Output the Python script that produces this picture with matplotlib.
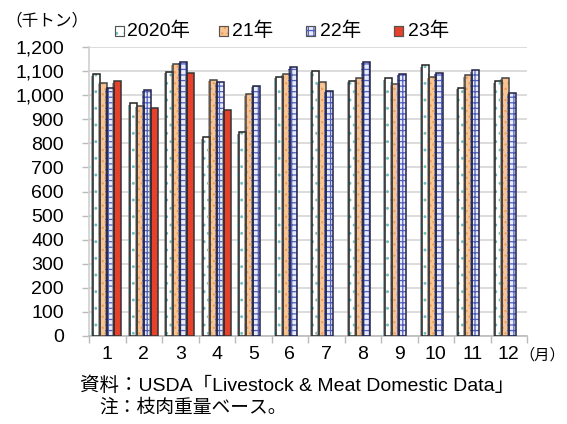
import matplotlib
matplotlib.use("Agg")
import matplotlib.pyplot as plt
import numpy as np
from matplotlib.patches import Rectangle
from matplotlib import patheffects as pe

plt.rcParams['font.family'] = ['Liberation Sans', 'Noto Sans CJK JP', 'DejaVu Sans']

months = ['1', '2', '3', '4', '5', '6', '7', '8', '9', '10', '11', '12']
series_names = ['2020年', '21年', '22年', '23年']
v2020 = [1086, 967, 1098, 825, 845, 1076, 1101, 1060, 1070, 1124, 1030, 1057]
v2021 = [1052, 955, 1129, 1065, 1004, 1088, 1054, 1070, 1047, 1075, 1083, 1071]
v2022 = [1031, 1021, 1139, 1056, 1038, 1115, 1019, 1138, 1089, 1092, 1103, 1011]
v2023 = [1057, 947, 1094, 938]
yticks = [0, 100, 200, 300, 400, 500, 600, 700, 800, 900, 1000, 1100, 1200]

series = [v2020, v2021, v2022, v2023]
faces = ['white', '#F8C493', '#E8EBF8', '#E8412B']
hatch_cols = ['#6FBFC0', '#E9A060', '#4F5FC0', '#E8412B']
hatches = ['..', '...', '+++', None]
edges = ['#222222', '#444444', '#222244', '#333333']

W, H = 567, 424
fig = plt.figure(figsize=(W/100, H/100), dpi=100)
ax = fig.add_axes([89/W, 1-336/H, (527-89)/W, (336-47)/H])

plt.rcParams['hatch.linewidth'] = 0.9
x = np.arange(len(months))
w = 0.19
shadow = [pe.SimplePatchShadow(offset=(-1.5, -1), shadow_rgbFace='#808080', alpha=0.7), pe.Normal()]
for j, vals in enumerate(series):
    xs = x[:len(vals)] + (j - 1.5) * w
    b = ax.bar(xs, vals, width=w, color=faces[j], edgecolor=hatch_cols[j],
               hatch=hatches[j], linewidth=0, zorder=3)
    for p in b:
        p.set_path_effects(shadow)
    ax.bar(xs, vals, width=w, facecolor='none', edgecolor=edges[j], linewidth=1.1, zorder=4)

ax.set_xlim(-0.5, 11.5)
ax.set_ylim(0, 1200)
ax.set_yticks(yticks)
ax.set_yticklabels([f'{v:,}' for v in yticks], fontsize=14)
ax.set_xticks(x)
ax.set_xticklabels(months, fontsize=14)
ax.set_xticks(np.arange(-0.5, 12, 1), minor=True)
ax.tick_params(axis='x', which='major', length=0, pad=7)
ax.tick_params(axis='x', which='minor', length=5, color='#BBBBBB', width=1)
ax.tick_params(axis='y', length=5, color='#BBBBBB', width=1, pad=13)
ax.grid(axis='y', color='#D9D9D9', linewidth=1.3, zorder=0)
ax.set_axisbelow(True)
for s in ['top', 'right']:
    ax.spines[s].set_visible(False)
ax.spines['left'].set_color('#D0D0D0')
ax.spines['bottom'].set_color('#BBBBBB')
ax.spines['left'].set_linewidth(1.2)
ax.spines['bottom'].set_linewidth(1.2)

# legend (manual placement)
sq_left = [115, 219, 306, 394]
txt_left = [127, 232, 320, 408]
leg_y = 31
sq = 9
for j in range(4):
    r = Rectangle(((sq_left[j]) / W, 1 - (leg_y + sq / 2) / H), sq / W, sq / H,
                  transform=fig.transFigure, facecolor=faces[j],
                  edgecolor=hatch_cols[j] if hatches[j] else '#333333',
                  hatch=hatches[j], linewidth=0.8)
    fig.add_artist(r)
    r2 = Rectangle(((sq_left[j]) / W, 1 - (leg_y + sq / 2) / H), sq / W, sq / H,
                   transform=fig.transFigure, facecolor='none', edgecolor='#555555', linewidth=0.8)
    fig.add_artist(r2)
    fig.text(txt_left[j] / W, 1 - leg_y / H, series_names[j], fontsize=14, va='center', ha='left')

fig.text(5/W, 1-20/H, '（千トン）', fontsize=12, va='center', ha='left')
fig.text(519/W, 1-355/H, '（月）', fontsize=11, va='center', ha='left')
fig.text(80/W, 1-386/H, '資料：USDA「Livestock & Meat Domestic Data」', fontsize=14, va='center', ha='left')
fig.text(99/W, 1-408/H, '注：枝肉重量ベース。', fontsize=13.5, va='center', ha='left')

fig.savefig('out.png', dpi=100)
